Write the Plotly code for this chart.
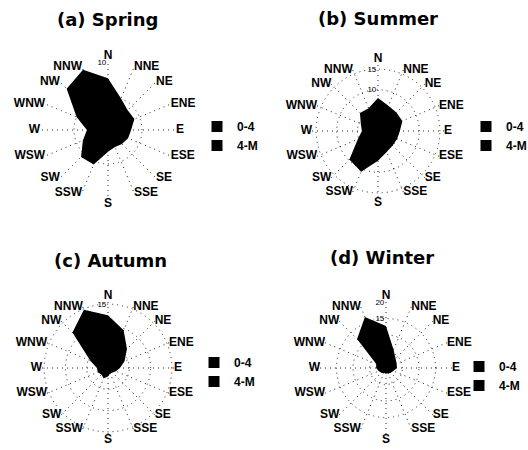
import plotly.graph_objects as go

directions = ["N", "NNE", "NE", "ENE", "E", "ESE", "SE", "SSE",
              "S", "SSW", "SW", "WSW", "W", "WNW", "NW", "NNW"]
season_titles = ["(a) Spring", "(b) Summer", "(c) Autumn", "(d) Winter"]
speed_classes = ["0-4", "4-M"]

# frequency (%) per direction, wind speed class 0-4 m/s
spring_0_4 = [4.5, 3.2, 2.6, 2.7, 2.2, 2.0, 1.9, 1.8, 2.1, 3.4, 3.3, 2.6, 2.0, 3.0, 5.0, 5.5]
summer_0_4 = [5.2, 4.3, 4.1, 4.2, 3.6, 3.4, 3.3, 3.7, 4.8, 6.5, 6.0, 3.6, 2.7, 3.0, 4.0, 3.9]
autumn_0_4 = [7.0, 5.8, 4.0, 2.9, 2.0, 1.5, 1.1, 1.0, 1.4, 1.8, 1.6, 1.8, 1.8, 3.0, 6.6, 8.0]
winter_0_4 = [6.5, 3.6, 2.6, 2.3, 2.2, 1.7, 1.4, 1.3, 1.2, 1.2, 1.4, 1.7, 2.0, 2.1, 6.2, 8.2]

# frequency (%) per direction, wind speed class 4-M (stacked on 0-4)
spring_4_M = [3.1, 1.8, 1.5, 1.5, 1.2, 1.2, 1.0, 0.9, 1.1, 2.1, 2.3, 1.4, 1.1, 2.0, 3.6, 4.1]
summer_4_M = [2.8, 2.3, 2.2, 2.2, 1.7, 1.6, 1.7, 1.8, 2.4, 4.2, 3.8, 1.7, 1.2, 1.5, 2.2, 2.1]
autumn_4_M = [5.4, 3.8, 2.3, 1.3, 0.8, 0.5, 0.4, 0.4, 0.6, 0.8, 0.6, 0.8, 0.8, 1.5, 5.2, 6.8]
winter_4_M = [6.2, 2.4, 1.5, 1.2, 1.1, 0.7, 0.6, 0.5, 0.4, 0.4, 0.6, 0.7, 1.0, 1.1, 6.2, 8.5]

radial_max = [10, 16, 15.5, 20]
radial_ticks = [[5, 10], [5, 10, 15], [5, 10, 15], [5, 10, 15, 20]]

low = [spring_0_4, summer_0_4, autumn_0_4, winter_0_4]
high = [spring_4_M, summer_4_M, autumn_4_M, winter_4_M]

W, H = 528, 450
# centre (px) and radius (px) of each rose
centers = [(108, 130, 68), (378, 131, 66), (108, 368, 66), (386, 368, 66)]
legend_pos = [(197, 112), (466, 112), (194, 348), (459, 352)]
title_pos = [(107, 20), (378, 18), (110, 260), (382, 257)]

# direction label placement next to the end of each spoke
label_pos = []
for j in range(len(directions)):
    if j == 0:
        label_pos.append("top center")
    elif j == 8:
        label_pos.append("bottom center")
    elif j < 8:
        label_pos.append("middle right")
    else:
        label_pos.append("middle left")

fig = go.Figure()
lab_font = dict(family="Liberation Sans, Arial", size=12, color="black", weight="bold")
grid_dash = "1px,4px"

for i in range(4):
    pname = "polar" if i == 0 else f"polar{i+1}"
    lname = "legend" if i == 0 else f"legend{i+1}"
    total = [a + b for a, b in zip(low[i], high[i])]
    fig.add_trace(go.Scatterpolar(
        r=low[i], theta=directions, subplot=pname, mode="none",
        fill="toself", fillcolor="black", name=speed_classes[0],
        showlegend=False))
    fig.add_trace(go.Scatterpolar(
        r=total, theta=directions, subplot=pname, mode="none",
        fill="toself", fillcolor="black", name=speed_classes[1],
        showlegend=False))
    # direction labels at the outer ring
    fig.add_trace(go.Scatterpolar(
        r=[radial_max[i]] * len(directions), theta=directions, subplot=pname,
        mode="text", text=directions, textposition=label_pos,
        textfont=lab_font, cliponaxis=False, hoverinfo="skip",
        showlegend=False))
    # legend keys (square markers)
    for k, nm in enumerate(speed_classes):
        fig.add_trace(go.Scatterpolar(
            r=[None], theta=[directions[0]], subplot=pname, mode="markers",
            marker=dict(symbol="square", size=11, color="black"),
            name=nm, legend=lname, legendrank=k + 1, showlegend=True))
    cx, cy, rad = centers[i]
    dom = dict(x=[(cx - rad) / W, (cx + rad) / W],
               y=[1 - (cy + rad) / H, 1 - (cy - rad) / H])
    fig.update_layout({pname: dict(
        domain=dom,
        bgcolor="white",
        angularaxis=dict(direction="clockwise", rotation=90,
                         showline=False, ticks="", showticklabels=False,
                         showgrid=True, gridcolor="#222", gridwidth=1,
                         griddash=grid_dash, layer="below traces"),
        radialaxis=dict(range=[0, radial_max[i]], tickvals=radial_ticks[i],
                        showline=False, ticks="", angle=90, tickangle=90,
                        side="counterclockwise",
                        showgrid=True, gridcolor="#222", gridwidth=1,
                        griddash=grid_dash, layer="below traces",
                        tickfont=dict(family="Liberation Sans, Arial", size=8, color="black")),
    )})
    lx, ly = legend_pos[i]
    fig.update_layout({lname: dict(
        x=lx / W, y=1 - ly / H, xanchor="left", yanchor="top",
        bgcolor="rgba(0,0,0,0)", itemwidth=30, tracegroupgap=0,
        font=dict(family="Liberation Sans, Arial", size=12, color="black", weight="bold"),
        traceorder="normal")})
    tx, ty = title_pos[i]
    fig.add_annotation(x=tx / W, y=1 - ty / H, xref="paper", yref="paper",
                       text=season_titles[i], showarrow=False,
                       xanchor="center", yanchor="middle",
                       font=dict(family="DejaVu Sans", size=18, color="black", weight="bold"))

fig.update_layout(width=W, height=H,
                  margin=dict(l=0, r=0, t=0, b=0, autoexpand=False),
                  paper_bgcolor="white", plot_bgcolor="white", showlegend=True)
fig.write_html("out.html", config={"displayModeBar": False},
               post_script="document.body.style.margin='0';document.body.style.padding='0';")
